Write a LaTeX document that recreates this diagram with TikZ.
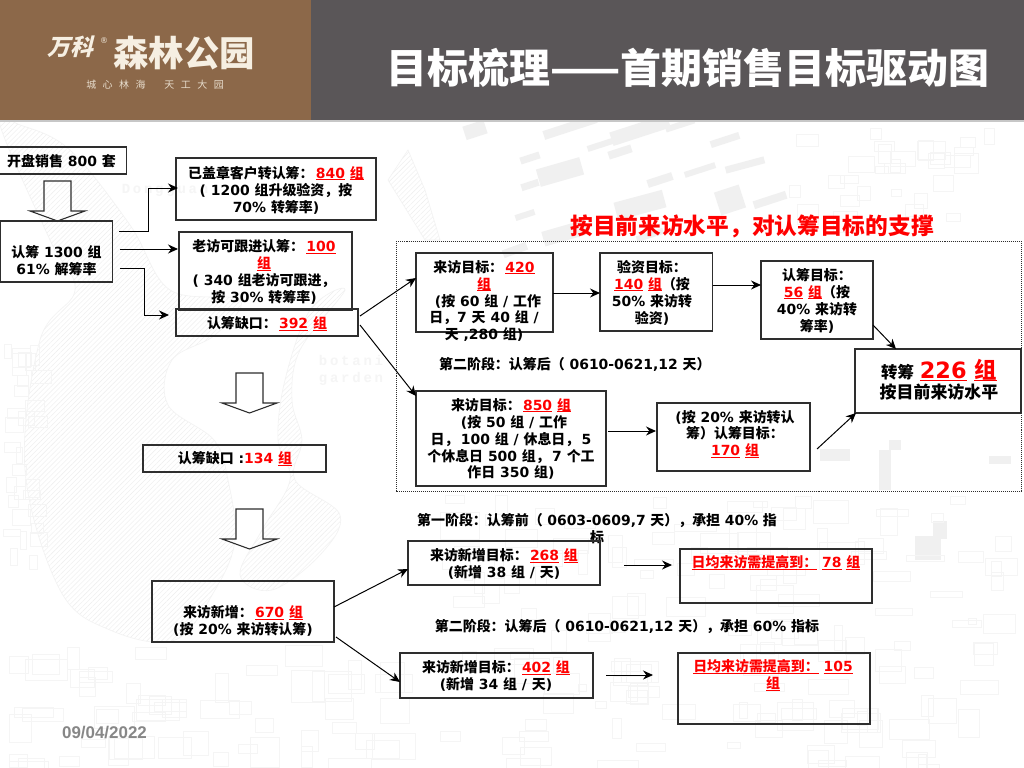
\documentclass[tikz,border=0pt]{standalone}
\usepackage{fontspec}
\usetikzlibrary{arrows.meta,patterns.meta,calc}
\setmainfont{DejaVu Sans}
\newfontfamily\latf{DejaVu Sans}
\newfontfamily\cjkf{Noto Sans CJK SC}
\newfontfamily\datef{Liberation Sans}
\newfontfamily\faintf{Liberation Mono}
\newXeTeXintercharclass\cjkc
\newcount\cc
\cc="4E00 \loop \XeTeXcharclass\cc=\cjkc \advance\cc by 1 \ifnum\cc<"A000 \repeat
\cc="3000 \loop \XeTeXcharclass\cc=\cjkc \advance\cc by 1 \ifnum\cc<"3040 \repeat
\cc="FF00 \loop \XeTeXcharclass\cc=\cjkc \advance\cc by 1 \ifnum\cc<"FFF0 \repeat
\XeTeXcharclass"2014=\cjkc
\XeTeXinterchartoks 0 \cjkc={\cjkf}
\XeTeXinterchartoks \cjkc 0 ={\latf}
\XeTeXinterchartoks 4095 \cjkc={\cjkf}
\XeTeXinterchartoks \cjkc 4095 ={\latf}
\XeTeXinterchartokenstate=1
\definecolor{brownband}{HTML}{8C6849}
\definecolor{grayband}{HTML}{5A5658}
\definecolor{edge}{HTML}{2E2E2E}
\definecolor{cream}{HTML}{F6EFE2}
\definecolor{faintfill}{HTML}{F0F0F0}
\definecolor{faintline}{HTML}{F5F5F5}
\newcommand\ru[1]{\textcolor{red}{\setbox0=\hbox{#1}\rlap{\rule[-2.2pt]{\wd0}{1.1pt}}\box0}}
\newcommand\rr[1]{\textcolor{red}{#1}}
\tikzset{
  bx/.style={draw=edge,line width=1.15pt,inner sep=0pt},
  tx/.style={inner sep=0pt,align=center,text=black,font=\fontsize{14}{17}\selectfont\bfseries},
  conn/.style={draw=black,line width=1pt,-{Stealth[length=10pt,width=9pt]}},
  hollow/.style={draw=edge,line width=1.1pt},
  blockf/.style={fill=faintfill,draw=none},
  mapl/.style={draw=faintline,line width=.8pt},
  hatch/.style={pattern={Lines[angle=45,distance=3.5pt,line width=.4pt]},pattern color=black!7,draw=black!5,line width=.6pt}
}
\newcommand\mybox[5]{%
  \pgfmathsetmacro\bw{#4-#2}\pgfmathsetmacro\bh{#5-#3}%
  \pgfmathsetmacro\bx{(#4+#2)/2}\pgfmathsetmacro\by{(#5+#3)/2}%
  \node[bx,minimum width=\bw bp,minimum height=\bh bp] (#1) at (\bx,\by) {};}
\newcommand\hollowarrow[2]{% tip x, top y
  \draw[hollow] (#1-13.5,#2) -- (#1+13.5,#2) -- (#1+13.5,#2+30) -- (#1+27.5,#2+30) -- (#1,#2+40) -- (#1-27.5,#2+30) -- (#1-13.5,#2+30) -- cycle;}
\begin{document}
\begin{tikzpicture}[x=1bp,y=-1bp]
\useasboundingbox (0,0) rectangle (1024,768);
\fill[white] (0,0) rectangle (1024,768);
% ---------- faint map background
\path[hatch] plot[smooth cycle,tension=.6] coordinates {(0,125) (50,240) (75,290) (40,340) (25,470) (60,590) (110,630) (175,640) (215,590) (235,540) (228,480) (214,440) (168,405) (172,360) (215,335) (240,300) (170,290) (130,225) (70,150) (20,125)};
\path[hatch] plot[smooth cycle,tension=.6] coordinates {(300,350) (292,400) (302,440) (295,480) (340,515) (320,555) (272,590) (240,575) (262,530) (290,480) (278,440) (285,380) (310,310) (345,290)};
\path[hatch] (388,180) -- (408,150) -- (425,190) -- (440,240) -- (425,240) -- cycle;
\begin{scope}[blockf]
\foreach \x/\y/\w/\h/\r in {
 475/130/22/14/18, 570/127/55/9/18, 640/130/60/14/18, 560/172/45/18/16, 620/152/24/8/18,
 660/180/26/8/18, 640/205/50/18/15, 730/200/26/24/18, 565/233/45/15/16, 700/170/32/6/18,
 600/145/26/6/18, 530/158/20/7/18, 530/185/18/7/18, 650/235/28/6/18, 525/215/20/6/18,
 745/165/40/7/15, 770/200/34/8/18, 725/140/30/7/18, 515/250/25/8/20, 680/125/30/6/18,
 885/470/12/40/0, 928/548/26/24/0, 940/530/14/18/0, 835/455/30/12/0, 1000/460/22/8/0, 895/445/12/10/0}
  \fill (\x,\y) ++(-\w/2,-\h/2) [rotate around={\r:(\x,\y)}] rectangle ++(\w,\h);
\end{scope}
\pgfmathsetseed{11}
\foreach \i in {1,...,150}{
  \pgfmathsetmacro\px{rnd*560+440}\pgfmathsetmacro\py{rnd*270+495}
  \pgfmathsetmacro\pw{rnd*34+8}\pgfmathsetmacro\ph{rnd*22+6}
  \draw[mapl] (\px,\py) rectangle ++(\pw,\ph);}
\foreach \i in {1,...,55}{
  \pgfmathsetmacro\px{rnd*380+5}\pgfmathsetmacro\py{rnd*120+645}
  \pgfmathsetmacro\pw{rnd*34+10}\pgfmathsetmacro\ph{rnd*24+8}
  \draw[mapl] (\px,\py) rectangle ++(\pw,\ph);}
\foreach \i in {1,...,30}{
  \pgfmathsetmacro\px{rnd*210+785}\pgfmathsetmacro\py{rnd*90+128}
  \pgfmathsetmacro\pw{rnd*22+8}\pgfmathsetmacro\ph{rnd*16+6}
  \draw[mapl] (\px,\py) rectangle ++(\pw,\ph);}
\foreach \i in {1,...,30}{
  \pgfmathsetmacro\px{rnd*30+3}\pgfmathsetmacro\py{rnd*220+340}
  \pgfmathsetmacro\pw{rnd*14+6}\pgfmathsetmacro\ph{rnd*16+6}
  \draw[mapl] (\px,\py) rectangle ++(\pw,\ph);}
\foreach \x/\y/\t in {351/361/botani,351/379/garden,165/190/Dongguan}
  \node[inner sep=0pt,text=black!4,font=\fontsize{14}{14}\faintf\bfseries\addfontfeature{LetterSpace=20}] (faint\t) at (\x,\y) {\t};
% ---------- header
\fill[brownband] (0,0) rectangle (311,120);
\fill[grayband] (311,0) rectangle (1024,120);
\draw[black!22,line width=2pt] (0,121) -- (1024,121);
\node[inner sep=0pt,text=white,font=\fontsize{41.1}{42}\selectfont\bfseries] (title) at (688,68) {目标梳理——首期销售目标驱动图};
\node[inner sep=0pt,text=cream,xslant=.25,font=\fontsize{23}{23}\selectfont\bfseries] (logoa) at (73,47) {万科};
\node[inner sep=0pt,text=cream,font=\fontsize{8}{8}\selectfont] (logor) at (104,41) {®};
\node[inner sep=0pt,text=cream,font=\fontsize{35.5}{36}\selectfont\bfseries] (logob) at (184,53) {森林公园};
\node[inner sep=0pt,text=cream!85!brownband,font=\fontsize{10}{10}\selectfont] (logoc) at (155,85) {城\hspace{6.5pt}心\hspace{6.5pt}林\hspace{6.5pt}海\hspace{19pt}天\hspace{6.5pt}工\hspace{6.5pt}大\hspace{6.5pt}园};
% ---------- left column
\mybox{open}{-1}{147}{126.5}{174}
\node[tx] (open-t) at (61.5,161) {开盘销售 800 套};
\hollowarrow{57.5}{181}
\mybox{sub}{0}{221}{112.5}{282}
\node[tx] (sub-t) at (56.5,261) {认筹 1300 组\\61\% 解筹率};
\mybox{seal}{176}{158}{376}{220}
\node[tx] (seal-t) at (276,190) {已盖章客户转认筹：\,\ru{840} \ru{组}\\( 1200 组升级验资，按\\70\% 转筹率)};
\mybox{old}{179}{232}{352}{310}
\node[tx] (old-t) at (264,272) {老访可跟进认筹：\,\ru{100}\\\ru{组}\\( 340 组老访可跟进，\\按 30\% 转筹率)};
\mybox{gap}{176}{309}{358}{336}
\node[tx] (gap-t) at (267,323.5) {认筹缺口：\,\ru{392} \ru{组}};
\hollowarrow{249.5}{373}
\mybox{gapb}{143}{445}{326}{472}
\node[tx] (gapb-t) at (235,459) {认筹缺口 :\rr{134} \ru{组}};
\hollowarrow{249.5}{509}
\mybox{newv}{152}{581}{334}{642}
\node[tx] (newv-t) at (243,621) {来访新增：\,\ru{670} \ru{组}\\(按 20\% 来访转认筹)};
\node[inner sep=0pt,text=black!47,font=\fontsize{17}{17}\datef\bfseries] (date) at (104.5,733) {09/04/2022};
% ---------- red heading and dotted frame
\node[inner sep=0pt,text=red,font=\fontsize{22.8}{23}\selectfont\bfseries] (head) at (752,226) {按目前来访水平，对认筹目标的支撑};
\draw[edge,densely dotted,line width=1pt] (396,241) rectangle (1021,491);
% ---------- upper flow
\mybox{va}{416}{253}{553}{332}
\node[tx] (va-t) at (484,301) {来访目标：\,\ru{420}\\\ru{组}\\\hspace{8pt}(按 60 组 / 工作\\日，7 天 40 组 /\\天 ,280 组)};
\mybox{vb}{600}{253}{712.5}{331}
\node[tx] (vb-t) at (652,292.5) {验资目标：\\\ru{140} \ru{组}（按\\50\% 来访转\\验资)};
\mybox{vc}{761}{261}{873}{339}
\node[tx] (vc-t) at (817,300.5) {认筹目标：\\\ru{56} \ru{组}（按\\40\% 来访转\\筹率)};
\mybox{goal}{855}{349}{1021}{413}
\node[inner sep=0pt,align=center,text=black] (goal-t) at (939,380) {\fontsize{16.5}{18}\selectfont\bfseries 转筹 {\fontsize{22.5}{24}\selectfont\ru{226} \ru{组}}\\[2pt]\fontsize{17}{18}\selectfont\bfseries 按目前来访水平};
\node[tx,anchor=west] (stage2a) at (439,364) {第二阶段：认筹后（ 0610-0621,12 天）};
\mybox{vd}{416}{391}{606}{486}
\node[tx] (vd-t) at (511,439) {来访目标：\,\ru{850} \ru{组}\\\hspace{6pt}(按 50 组 / 工作\\日，\,100 组 / 休息日，\,5\\个休息日 500 组，\,7 个工\\作日 350 组)};
\mybox{ve}{657}{403}{810}{471}
\node[tx] (ve-t) at (735,434) {(按 20\% 来访转认\\筹）认筹目标：\\\ru{170} \ru{组}};
% ---------- lower flow
\node[tx,text width=364bp] (stage1) at (597,529) {第一阶段：认筹前（ 0603-0609,7 天），承担 40\% 指\\标};
\mybox{na}{408}{541}{600}{585}
\node[tx] (na-t) at (504,564) {来访新增目标：\,\ru{268} \ru{组}\\(新增 38 组 / 天)};
\mybox{nb}{680}{549}{872}{603}
\node[tx] (nb-t) at (776,563) {\ru{日均来访需提高到：} \ru{78} \ru{组}};
\node[tx] (stage2b) at (627,627) {第二阶段：认筹后（ 0610-0621,12 天），承担 60\% 指标};
\mybox{nc}{400}{653}{593}{698}
\node[tx] (nc-t) at (496,676) {来访新增目标：\,\ru{402} \ru{组}\\(新增 34 组 / 天)};
\mybox{nd}{678}{653}{870}{724}
\node[tx] (nd-t) at (773,675.5) {\ru{日均来访需提高到：} \ru{105}\\\ru{组}};
% ---------- connector ends
\coordinate (s1) at (119,231); \coordinate (m1a) at (148,231); \coordinate (m1b) at (148,188); \coordinate (e1) at (178,188);
\coordinate (s2) at (120,249); \coordinate (e2) at (178,249);
\coordinate (s3) at (120,268); \coordinate (m3a) at (144,268); \coordinate (m3b) at (144,315); \coordinate (e3) at (169,315);
\coordinate (g1) at (360,316); \coordinate (g1e) at (416,278);
\coordinate (g2) at (360,325); \coordinate (g2e) at (416,396);
\coordinate (ab1) at (553,293); \coordinate (ab2) at (600,293);
\coordinate (bc1) at (712.5,285); \coordinate (bc2) at (761,285);
\coordinate (cg1) at (873,325); \coordinate (cg2) at (896,349);
\coordinate (de1) at (608,431); \coordinate (de2) at (656,431);
\coordinate (eg1) at (817,449); \coordinate (eg2) at (856,413);
\coordinate (n1s) at (334,607); \coordinate (n1e) at (408,569);
\coordinate (n2s) at (336,637); \coordinate (n2e) at (400,682);
\coordinate (ab3) at (624,565); \coordinate (ab4) at (672,565);
\coordinate (cd3) at (606,675); \coordinate (cd4) at (653,675);
\draw[conn] (s1) -- (m1a) -- (m1b) -- (e1);
\draw[conn] (s2) -- (e2);
\draw[conn] (s3) -- (m3a) -- (m3b) -- (e3);
\draw[conn] (g1) -- (g1e);
\draw[conn] (g2) -- (g2e);
\draw[conn] (ab1) -- (ab2);
\draw[conn] (bc1) -- (bc2);
\draw[conn] (cg1) -- (cg2);
\draw[conn] (de1) -- (de2);
\draw[conn] (eg1) -- (eg2);
\draw[conn] (n1s) -- (n1e);
\draw[conn] (n2s) -- (n2e);
\draw[conn] (ab3) -- (ab4);
\draw[conn] (cd3) -- (cd4);
\end{tikzpicture}
\end{document}
